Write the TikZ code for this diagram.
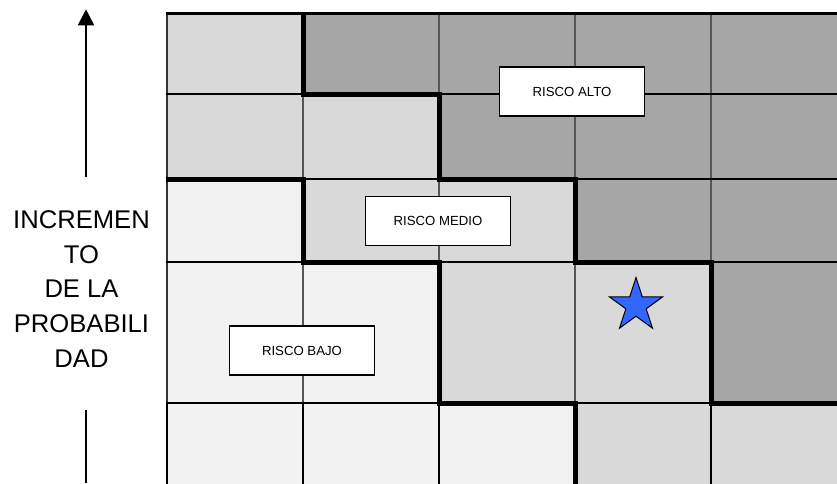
\documentclass[tikz,border=0pt]{standalone}
\usepackage{fontspec}
\setmainfont{Liberation Sans}
\usetikzlibrary{arrows.meta,shapes.geometric}
\definecolor{lowc}{HTML}{F2F2F2}
\definecolor{medc}{HTML}{D9D9D9}
\definecolor{highc}{HTML}{A6A6A6}
\definecolor{starblue}{HTML}{3366FF}
\definecolor{thingray}{HTML}{555555}
\tikzset{
  riskbox/.style={draw=black, line width=1.5pt, fill=white, minimum width=145pt, minimum height=49pt, inner sep=0pt, font=\fontsize{13.2}{15}\selectfont},
  thinline/.style={draw=thingray, line width=1.1pt},
  rowline/.style={draw=black, line width=2.5pt},
  boundary/.style={draw=black, line width=5pt, line join=miter},
  axisline/.style={draw=black, line width=2pt},
}
\begin{document}
\begin{tikzpicture}[x=1pt,y=-1pt]
\useasboundingbox (0,0) rectangle (837,483);
\begin{scope}
\clip (0,0) rectangle (837,483);
% region fills
\fill[medc] (167,13.5) rectangle (847,493);
\fill[highc] (303,13.5) -- (847,13.5) -- (847,403) -- (711,403) -- (711,262) -- (575,262) -- (575,179) -- (439,179) -- (439,94) -- (303,94) -- cycle;
\fill[lowc] (167,179) -- (303,179) -- (303,262) -- (439,262) -- (439,403) -- (575,403) -- (575,493) -- (167,493) -- cycle;
% thin vertical lines
\foreach \x in {303,439,575,711} \draw[thinline] (\x,13.5) -- (\x,403);
\draw[draw=black!80, line width=1.5pt] (167,13.5) -- (167,403);
% bottom row verticals
\foreach \x in {167,303,439,711} \draw[axisline] (\x,403) -- (\x,493);
% horizontal row lines
\draw[rowline] (166,13.5) -- (847,13.5);
\foreach \y in {94,179,262,403} \draw[rowline] (166,\y) -- (847,\y);
% region boundaries
\draw[boundary] (166,179) -- (303,179) -- (303,262) -- (439,262) -- (439,403) -- (575,403) -- (575,493);
\draw[boundary] (303,12.3) -- (303,94) -- (439,94) -- (439,179) -- (575,179) -- (575,262) -- (711,262) -- (711,403) -- (847,403);
\end{scope}
% labels
\node[riskbox] (alto) at (572,91.5) {RISCO ALTO};
\node[riskbox] (medio) at (438,221) {RISCO MEDIO};
\node[riskbox] (bajo) at (302,350.7) {RISCO BAJO};
% star
\node[star, star points=5, star point ratio=2.618, minimum size=56pt, inner sep=0pt, fill=starblue, draw=black, line width=1pt] (mark1) at (636,305.5) {};
% axis text
\node[align=center, font=\fontsize{25.6}{34.9}\selectfont] (ylabel) at (81.5,289) {INCREMEN\\TO\\DE LA\\PROBABILI\\DAD};
% axis arrow
\coordinate (atop) at (86,9.3);
\coordinate (abot) at (86,177.3);
\coordinate (blow) at (86,410);
\coordinate (bend) at (86,483);
\draw[axisline, -{Triangle[length=16pt,width=16pt]}] (abot) -- (atop);
\draw[axisline] (blow) -- (bend);
\end{tikzpicture}
\end{document}
